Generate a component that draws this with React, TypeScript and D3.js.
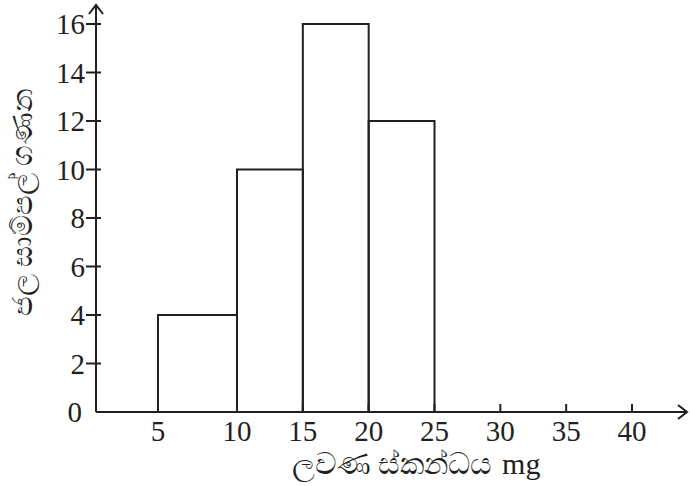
import React from "react";
import * as d3 from "d3";

const binStarts = [5, 10, 15, 20];
const binEnds = [10, 15, 20, 25];
const counts = [4, 10, 16, 12];
const yTicks = [0, 2, 4, 6, 8, 10, 12, 14, 16];
const xTicks = [5, 10, 15, 20, 25, 30, 35, 40];
const xLabelSi = "ලවණ ස්කන්ධය";
const xLabelUnit = "mg";
const yLabel = "ජල සාම්පල් ගණන";

export default function App() {
  const W = 690, H = 486;
  const x = d3.scaleLinear().domain([0, 5, 10, 40]).range([96, 158, 237, 632]);
  const y = d3.scaleLinear().domain([0, 16]).range([412, 24]);
  const ink = "#231f20";
  const font = "Liberation Serif, Times New Roman, serif";
  const x0 = x(0), y0 = y(0);
  return (
    <svg width={W} height={H} style={{ position: "absolute", left: 0, top: 0 }}>
      <rect width={W} height={H} fill="#fff" />
      {binStarts.map((s, i) => (
        <rect key={i} x={x(s)} y={y(counts[i])} width={x(binEnds[i]) - x(s)} height={y0 - y(counts[i])}
          fill="none" stroke={ink} strokeWidth={2} />
      ))}
      <line x1={x0} y1={y0} x2={686} y2={y0} stroke={ink} strokeWidth={2} />
      <polyline points={`678,${y0 - 7} 687,${y0} 678,${y0 + 7}`} fill="none" stroke={ink} strokeWidth={2} />
      <line x1={x0} y1={y0} x2={x0} y2={6} stroke={ink} strokeWidth={2} />
      <polyline points={`${x0 - 7},14 ${x0},5 ${x0 + 7},14`} fill="none" stroke={ink} strokeWidth={2} />
      {yTicks.map((t) => (
        <g key={t}>
          {t > 0 && <line x1={x0 - 10} x2={x0 + 5} y1={y(t)} y2={y(t)} stroke={ink} strokeWidth={2} />}
          <text x={t === 0 ? 82 : 85} y={y(t) + 10} textAnchor="end" fontFamily={font} fontSize={29} fill={ink}>{t}</text>
        </g>
      ))}
      {xTicks.map((t) => (
        <g key={t}>
          <line x1={x(t)} x2={x(t)} y1={y0 - 8} y2={y0} stroke={ink} strokeWidth={2} />
          <text x={x(t)} y={y0 + 29} textAnchor="middle" fontFamily={font} fontSize={29} fill={ink}>{t}</text>
        </g>
      ))}
      <text x={416} y={474} textAnchor="middle" fontFamily={font} fill={ink}>
        <tspan fontSize={30}>{xLabelSi}</tspan>
        <tspan fontSize={30} dx={10}>{xLabelUnit}</tspan>
      </text>
      <text transform="translate(32,202) rotate(-90)" textAnchor="middle" fontFamily={font} fontSize={29} fill={ink}>{yLabel}</text>
    </svg>
  );
}
